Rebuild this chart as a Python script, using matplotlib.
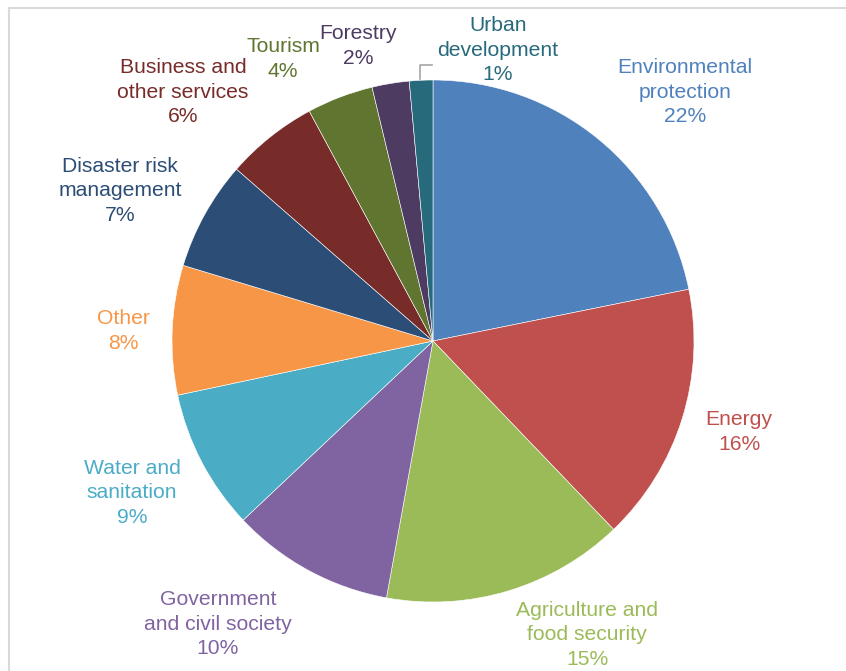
import matplotlib.pyplot as plt
from matplotlib.lines import Line2D

plt.rcParams['font.family'] = ['Liberation Sans', 'DejaVu Sans']

sectors = ["Environmental\nprotection", "Energy", "Agriculture and\nfood security",
           "Government\nand civil society", "Water and\nsanitation", "Other",
           "Disaster risk\nmanagement", "Business and\nother services", "Tourism",
           "Forestry", "Urban\ndevelopment"]
shares = [21.8, 16.0, 15.0, 10.1, 8.7, 8.0, 6.75, 5.7, 4.1, 2.3, 1.45]
colors = ["#4F81BD", "#C0504D", "#9BBB59", "#8064A2", "#4BACC6", "#F79646",
          "#2C4D75", "#772C2A", "#5F7530", "#4D3B62", "#276A7C"]

# label centres in pixels (x, y from top)
label_pos = [(685, 92), (739, 432), (587, 635), (218, 624), (132, 493), (123, 331),
             (120, 191), (183, 92), (283, 59), (358, 46), (498, 50)]

W, H = 846, 671
fig = plt.figure(figsize=(W / 100, H / 100), dpi=100)
ax = fig.add_axes([0, 0, 1, 1])
ax.set_xlim(0, W)
ax.set_ylim(0, H)
ax.set_aspect("equal")
ax.axis("off")

ax.pie(shares, colors=colors, startangle=90, counterclock=False,
       center=(433, H - 341), radius=261,
       wedgeprops=dict(edgecolor="white", linewidth=0.4))
ax.set_xlim(0, W)
ax.set_ylim(0, H)

for name, v, c, (x, y) in zip(sectors, shares, colors, label_pos):
    ax.text(x, H - y, f"{name}\n{v:.0f}%", color=c, fontsize=15.2,
            ha="center", va="center", linespacing=1.35)

# leader line for the small slice
ax.plot([420, 420, 432], [H - 79, H - 65, H - 65], color="#A6A6A6", lw=1.2)

# chart frame edges (top and left visible in crop)
fig.add_artist(Line2D([9 / W, 1], [1 - 8 / H, 1 - 8 / H], color="#D9D9D9", lw=1.5))
fig.add_artist(Line2D([9 / W, 9 / W], [0, 1 - 8 / H], color="#D9D9D9", lw=1.5))

fig.savefig("out.png", dpi=100, facecolor="white")
